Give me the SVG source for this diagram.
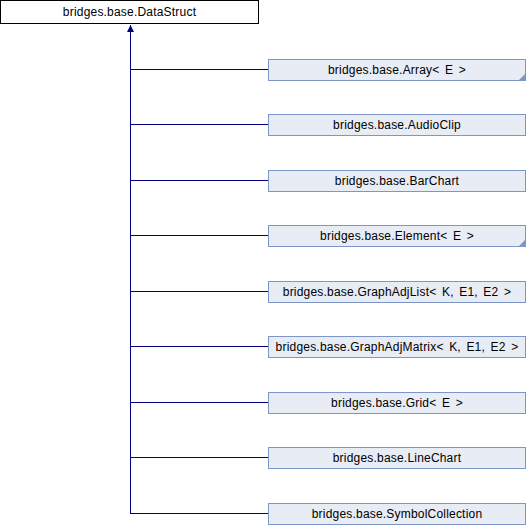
<svg xmlns="http://www.w3.org/2000/svg" width="526" height="528" viewBox="0 0 526 528">
<defs>
<style>
.lbl{font-family:"Liberation Sans",Arial,sans-serif;font-size:12px;letter-spacing:0.2px;word-spacing:2px;fill:#000;text-anchor:middle;dominant-baseline:central}
.child rect{fill:#E8ECF5;stroke:#7E95C8;stroke-width:1}
.root rect{fill:#fff;stroke:#000;stroke-width:1}
.con{stroke:#000080;stroke-width:1;fill:none}
.corner{fill:#7E95C8}
</style>
<marker id="arr" markerWidth="8" markerHeight="8" refX="7" refY="3.5" orient="auto" markerUnits="userSpaceOnUse" viewBox="0 0 8 8">
<path d="M0,0 L7,3.5 L0,7 Z" fill="#000080"/>
</marker>
</defs>
<g id="connectors">
<path class="con" d="M130.5,513 V25" marker-end="url(#arr)"/>
<path class="con" d="M130,69.5 H268 M130,124.5 H268 M130,180.5 H268 M130,235.5 H268 M130,291.5 H268 M130,346.5 H268 M130,402.5 H268 M130,457.5 H268 M130,513.5 H268"/>
</g>
<g id="DataStruct" class="root"><rect x="0.5" y="0.5" width="258" height="23"/><text class="lbl" x="129.5" y="12">bridges.base.DataStruct</text></g>
<g id="Array" class="child"><rect x="268.5" y="59.5" width="257" height="21"/><text class="lbl" x="397" y="70">bridges.base.Array&lt; E &gt;</text><path class="corner" d="M525,74 V80 H519 Z"/></g>
<g id="AudioClip" class="child"><rect x="268.5" y="114.5" width="257" height="21"/><text class="lbl" x="397" y="125">bridges.base.AudioClip</text></g>
<g id="BarChart" class="child"><rect x="268.5" y="170.5" width="257" height="21"/><text class="lbl" x="397" y="181">bridges.base.BarChart</text></g>
<g id="Element" class="child"><rect x="268.5" y="225.5" width="257" height="21"/><text class="lbl" x="397" y="236">bridges.base.Element&lt; E &gt;</text><path class="corner" d="M525,240 V246 H519 Z"/></g>
<g id="GraphAdjList" class="child"><rect x="268.5" y="281.5" width="257" height="21"/><text class="lbl" x="397" y="292">bridges.base.GraphAdjList&lt; K, E1, E2 &gt;</text></g>
<g id="GraphAdjMatrix" class="child"><rect x="268.5" y="336.5" width="257" height="21"/><text class="lbl" x="397" y="347">bridges.base.GraphAdjMatrix&lt; K, E1, E2 &gt;</text></g>
<g id="Grid" class="child"><rect x="268.5" y="392.5" width="257" height="21"/><text class="lbl" x="397" y="403">bridges.base.Grid&lt; E &gt;</text></g>
<g id="LineChart" class="child"><rect x="268.5" y="447.5" width="257" height="21"/><text class="lbl" x="397" y="458">bridges.base.LineChart</text></g>
<g id="SymbolCollection" class="child"><rect x="268.5" y="503.5" width="257" height="21"/><text class="lbl" x="397" y="514">bridges.base.SymbolCollection</text></g>
</svg>
